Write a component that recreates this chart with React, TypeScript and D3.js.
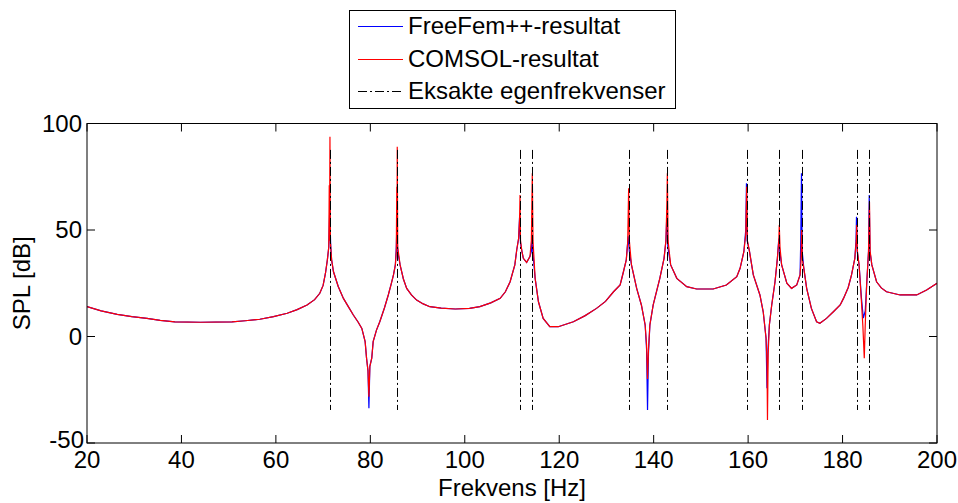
import React from "react";
import * as d3 from "d3";

const xTicks = [20, 40, 60, 80, 100, 120, 140, 160, 180, 200];
const yTicks = [-50, 0, 50, 100];

const eigenFreqs = [71.45, 85.65, 111.7, 114.25, 134.7, 142.85, 159.7, 166.6, 171.35, 183.0, 185.65];
const eigenRange: [number, number] = [-34.5, 87.6];

const comsol: [number, number][] = [
  [20, 14.0], [23, 12.0], [26.4, 10.4], [29.5, 9.3], [32.7, 8.5], [35.5, 7.6], [38.6, 6.9], [44, 6.7], [50.7, 6.9],
  [53.5, 7.4], [56.6, 8.1], [59.5, 9.3], [62.4, 10.9], [64.5, 12.6], [66.6, 14.8], [68.2, 17.3], [69.3, 20.3],
  [70.0, 24.0], [70.5, 29.7], [70.9, 36.0], [71.2, 42.0], [71.3, 71.0], [71.35, 45], [71.45, 93.8], [71.55, 44],
  [71.8, 36], [72.2, 30.4], [73.2, 23.5], [74.3, 17.9], [75.4, 13.8], [76.4, 10.1], [77.4, 6.8], [78.2, 3.8],
  [78.9, -2.4], [79.2, -10.2], [79.5, -16], [79.7, -28.3], [79.9, -14], [80.3, -10.2], [80.6, -2.4], [81.3, 3.0],
  [82.0, 6.9], [83.0, 13.5], [83.8, 19.5], [84.4, 24.5], [84.9, 28.9], [85.3, 33.6], [85.5, 40], [85.6, 70.3],
  [85.65, 45], [85.7, 89.1], [85.8, 42], [86.3, 33.6], [87.0, 27.0], [87.7, 22.6], [88.7, 19.5], [89.8, 17.1],
  [91.2, 15.3], [92.6, 14.0], [95, 13.3], [98, 12.9], [101, 13.2], [103.2, 14.0], [105.5, 15.8], [107.5, 17.9],
  [108.6, 21.0], [109.6, 25.7], [110.6, 33.6], [111.0, 40.6], [111.4, 46], [111.6, 55], [111.7, 66.4], [111.8, 45],
  [112.1, 40], [112.4, 36.7], [113.1, 34.8], [113.8, 37.5], [114.1, 45], [114.2, 61], [114.3, 76.6], [114.45, 45],
  [114.9, 27.3], [115.6, 16.3], [116.6, 8.5], [118.0, 4.6], [119.8, 4.6], [123.0, 6.9], [125.5, 9.8], [127.9, 13.2],
  [129.8, 16.5], [131.5, 21.0], [132.9, 24.2], [133.6, 30.4], [134.2, 36], [134.5, 44], [134.7, 69.6], [134.85, 45],
  [135.3, 33.6], [136.4, 22.6], [137.4, 14.8], [138.2, 5.4], [138.5, -4], [138.7, -20], [138.9, -6], [139.2, 5.4],
  [139.9, 14.8], [141.3, 27.3], [142.2, 36.7], [142.6, 45], [142.8, 63], [142.9, 76.6], [143.05, 45], [143.6, 33.6],
  [144.9, 27.3], [147.0, 23.4], [149.1, 22.3], [152.6, 22.3], [155.4, 24.2], [157.6, 28.1], [158.3, 32.0],
  [159.1, 39.8], [159.5, 48], [159.7, 70.3], [159.85, 45], [160.3, 39.8], [161.1, 28.9], [162.5, 19.5], [163.2, 11.6],
  [163.8, -0.8], [164.0, -12], [164.1, -39.2], [164.25, -8], [164.5, 5.4], [165.0, 14.8], [165.7, 25.7], [166.2, 36.7],
  [166.5, 45], [166.6, 52.3], [166.75, 42], [167.1, 33.6], [168.2, 25.0], [169.2, 22.6], [170.3, 24.2], [171.0, 28.9],
  [171.2, 35], [171.35, 50.0], [171.5, 36], [171.8, 32.0], [172.4, 22.6], [173.4, 13.2], [174.5, 6.9], [175.2, 6.2],
  [176.6, 8.5], [178.0, 11.5], [179.5, 14.8], [180.2, 17.9], [181.2, 23], [181.9, 28.9], [182.6, 36.7], [182.9, 45],
  [183.0, 52.3], [183.15, 40], [183.5, 33.6], [184.0, 16.3], [184.3, 5], [184.6, -10.2], [184.8, 5], [185.1, 24.2],
  [185.5, 40], [185.7, 63.3], [185.85, 40], [186.2, 33.6], [187.2, 25.7], [188.2, 22.8], [189.3, 21.0], [192.2, 19.5],
  [195.7, 19.5], [197.8, 21.8], [200, 25.0],
];

const freefem: [number, number][] = [
  [20, 14.0], [23, 12.0], [26.4, 10.4], [29.5, 9.3], [32.7, 8.5], [35.5, 7.6], [38.6, 6.9], [44, 6.7], [50.7, 6.9],
  [53.5, 7.4], [56.6, 8.1], [59.5, 9.3], [62.4, 10.9], [64.5, 12.6], [66.6, 14.8], [68.2, 17.3], [69.3, 20.3],
  [70.0, 24.0], [70.5, 29.7], [70.9, 36.0], [71.2, 42.0], [71.4, 60], [71.6, 43],
  [71.8, 36], [72.2, 30.4], [73.2, 23.5], [74.3, 17.9], [75.4, 13.8], [76.4, 10.1], [77.4, 6.8], [78.2, 3.8],
  [78.9, -2.4], [79.2, -10.2], [79.5, -16], [79.7, -33.7], [79.9, -14], [80.3, -10.2], [80.6, -2.4], [81.3, 3.0],
  [82.0, 6.9], [83.0, 13.5], [83.8, 19.5], [84.4, 24.5], [84.9, 28.9], [85.3, 33.6], [85.5, 42], [85.6, 50],
  [85.8, 40], [86.3, 33.6], [87.0, 27.0], [87.7, 22.6], [88.7, 19.5], [89.8, 17.1],
  [91.2, 15.3], [92.6, 14.0], [95, 13.3], [98, 12.9], [101, 13.2], [103.2, 14.0], [105.5, 15.8], [107.5, 17.9],
  [108.6, 21.0], [109.6, 25.7], [110.6, 33.6], [111.0, 40.6], [111.4, 46], [111.6, 56], [111.8, 44],
  [112.1, 40], [112.4, 36.7], [113.1, 34.8], [113.8, 37.5], [114.1, 40], [114.2, 47], [114.4, 40],
  [114.9, 27.3], [115.6, 16.3], [116.6, 8.5], [118.0, 4.6], [119.8, 4.6], [123.0, 6.9], [125.5, 9.8], [127.9, 13.2],
  [129.8, 16.5], [131.5, 21.0], [132.9, 24.2], [133.6, 30.4], [134.2, 36], [134.6, 47], [134.85, 40],
  [135.3, 33.6], [136.4, 22.6], [137.4, 14.8], [138.2, 5.4], [138.5, -6], [138.7, -34.5], [138.9, -8], [139.2, 5.4],
  [139.9, 14.8], [141.3, 27.3], [142.2, 36.7], [142.6, 45], [142.8, 58], [143.0, 42], [143.6, 33.6],
  [144.9, 27.3], [147.0, 23.4], [149.1, 22.3], [152.6, 22.3], [155.4, 24.2], [157.6, 28.1], [158.3, 32.0],
  [159.1, 39.8], [159.5, 50], [159.65, 72], [159.8, 45], [160.3, 39.8], [161.1, 28.9], [162.5, 19.5], [163.2, 11.6],
  [163.8, -0.8], [164.0, -24.3], [164.2, -6], [164.5, 5.4], [165.0, 14.8], [165.7, 25.7], [166.2, 36.7],
  [166.5, 46], [166.7, 40], [167.1, 33.6], [168.2, 25.0], [169.2, 22.6], [170.3, 24.2], [171.0, 28.9],
  [171.15, 45], [171.3, 76.6], [171.45, 40], [171.8, 32.0], [172.4, 22.6], [173.4, 13.2], [174.5, 6.9], [175.2, 6.2],
  [176.6, 8.5], [178.0, 11.5], [179.5, 14.8], [180.2, 17.9], [181.2, 23], [181.9, 28.9], [182.6, 36.7], [182.85, 45],
  [182.95, 56.2], [183.1, 40], [183.5, 33.6], [184.0, 18], [184.4, 8.6], [184.8, 12], [185.1, 24.2],
  [185.5, 40], [185.65, 66.4], [185.8, 40], [186.2, 33.6], [187.2, 25.7], [188.2, 22.8], [189.3, 21.0], [192.2, 19.5],
  [195.7, 19.5], [197.8, 21.8], [200, 25.0],
];

const seriesNames = ["FreeFem++-resultat", "COMSOL-resultat", "Eksakte egenfrekvenser"];

const W = 958;
const H = 503;
const M = { left: 87, right: 937, top: 123.5, bottom: 443 };
const FONT = "'Liberation Sans', Arial, Helvetica, sans-serif";
const DASH = "9,3,2,3";

export default function App() {
  const x = d3.scaleLinear().domain([20, 200]).range([M.left, M.right]);
  const y = d3.scaleLinear().domain([-50, 100]).range([M.bottom, M.top]);
  const line = d3
    .line<[number, number]>()
    .x((d) => x(d[0]))
    .y((d) => y(d[1]));
  const tick = 8;

  const legend = { x0: 349.5, y0: 10.5, x1: 675.5, y1: 108.5 };
  const rowY = [26, 59, 91];

  return (
    <svg
      width={W}
      height={H}
      style={{ position: "absolute", left: 0, top: 0, background: "#fff" }}
      fontFamily={FONT}
    >
      <defs>
        <clipPath id="plotclip">
          <rect x={M.left} y={M.top} width={M.right - M.left} height={M.bottom - M.top} />
        </clipPath>
      </defs>
      <rect x={0} y={0} width={W} height={H} fill="#fff" />
      <g clipPath="url(#plotclip)">
        <path d={line(freefem) || ""} fill="none" stroke="#0000ff" strokeWidth={1.2} />
        <path d={line(comsol) || ""} fill="none" stroke="#ff0000" strokeWidth={1.2} />
        {eigenFreqs.map((f, i) => (
          <line
            key={i}
            x1={Math.round(x(f)) + 0.5}
            x2={Math.round(x(f)) + 0.5}
            y1={y(eigenRange[1])}
            y2={y(eigenRange[0])}
            stroke="#000"
            strokeWidth={1}
            strokeDasharray={DASH}
          />
        ))}
      </g>
      <rect
        x={M.left}
        y={M.top}
        width={M.right - M.left}
        height={M.bottom - M.top}
        fill="none"
        stroke="#000"
        strokeWidth={1}
      />
      {xTicks.map((t) => (
        <g key={"x" + t}>
          <line x1={x(t)} x2={x(t)} y1={M.bottom} y2={M.bottom - tick} stroke="#000" />
          <line x1={x(t)} x2={x(t)} y1={M.top} y2={M.top + tick} stroke="#000" />
          <text x={x(t)} y={468} fontSize={24} textAnchor="middle" fill="#000">
            {t}
          </text>
        </g>
      ))}
      {yTicks.map((t) => (
        <g key={"y" + t}>
          <line x1={M.left} x2={M.left + tick} y1={y(t)} y2={y(t)} stroke="#000" />
          <line x1={M.right} x2={M.right - tick} y1={y(t)} y2={y(t)} stroke="#000" />
          <text
            x={t === -50 ? 84 : 82}
            y={t === -50 ? y(t) - 3 : y(t)}
            dy="0.35em"
            fontSize={24}
            textAnchor="end"
            fill="#000"
          >
            {t}
          </text>
        </g>
      ))}
      <text x={(M.left + M.right) / 2} y={496} fontSize={24} textAnchor="middle" fill="#000">
        Frekvens [Hz]
      </text>
      <text
        transform={`translate(30,${(M.top + M.bottom) / 2}) rotate(-90)`}
        fontSize={24}
        textAnchor="middle"
        fill="#000"
      >
        SPL [dB]
      </text>
      <rect
        x={legend.x0}
        y={legend.y0}
        width={legend.x1 - legend.x0}
        height={legend.y1 - legend.y0}
        fill="#fff"
        stroke="#000"
        strokeWidth={1}
      />
      {seriesNames.map((name, i) => (
        <g key={name}>
          <line
            x1={358}
            x2={403}
            y1={rowY[i] + 0.5}
            y2={rowY[i] + 0.5}
            stroke={i === 0 ? "#0000ff" : i === 1 ? "#ff0000" : "#000"}
            strokeWidth={1}
            strokeDasharray={i === 2 ? DASH : undefined}
          />
          <text x={408} y={rowY[i]} dy="0.35em" fontSize={24} fill="#000">
            {name}
          </text>
        </g>
      ))}
    </svg>
  );
}
